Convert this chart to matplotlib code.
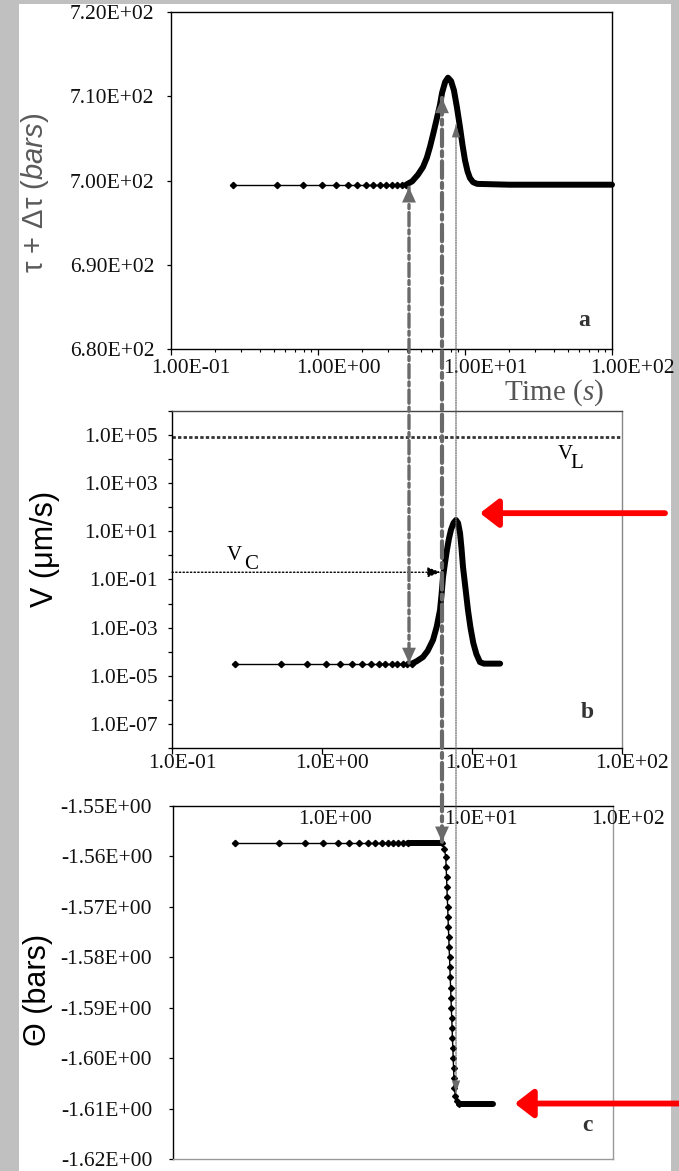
import matplotlib
matplotlib.use('Agg')
import matplotlib.pyplot as plt
from matplotlib import transforms
from matplotlib.patches import Rectangle, ConnectionPatch
from matplotlib.ticker import FixedLocator, NullLocator, LogLocator, NullFormatter

# ---- data ----
t_sparse = [0.265, 0.53, 0.795, 1.06, 1.325, 1.59, 1.855, 2.12, 2.385, 2.65, 2.915, 3.18, 3.445, 3.71, 3.975]
tau_sparse = [699.5, 699.5, 699.5, 699.5, 699.5, 699.5, 699.5, 699.5, 699.5, 699.5, 699.5, 699.5, 699.5, 699.5, 699.5]
v_sparse = [3.2e-5, 3.2e-5, 3.2e-5, 3.2e-5, 3.2e-5, 3.2e-5, 3.2e-5, 3.2e-5, 3.2e-5, 3.2e-5, 3.2e-5, 3.2e-5, 3.2e-5, 3.2e-5, 3.2e-5]
theta_sparse = [-1.5573, -1.5573, -1.5573, -1.5573, -1.5573, -1.5573, -1.5573, -1.5573, -1.5573, -1.5573, -1.5573, -1.5573, -1.5573, -1.5573, -1.5573]

ta_dense = [3.975, 4.37, 4.79, 5.18, 5.50, 5.78, 6.11, 6.46, 6.76, 6.98, 7.33, 7.66, 8.04, 8.41, 8.81,
            9.25, 9.62, 10.0, 10.4, 10.8, 11.35, 12.1, 20.0, 50.0, 100.0]
tau_dense = [699.5, 699.9, 700.7, 701.6, 702.7, 704.0, 705.7, 707.5, 709.0, 710.4, 711.7, 712.2, 711.8, 710.7, 708.7,
             706.3, 704.2, 702.4, 701.1, 700.3, 699.8, 699.6, 699.5, 699.5, 699.5]

tb_dense = [3.975, 4.27, 4.71, 5.07, 5.50, 5.82, 6.12, 6.27, 6.41, 6.61, 6.81, 7.02, 7.24, 7.53, 7.82,
            8.07, 8.32, 8.51, 8.71, 9.06, 9.40, 9.77, 10.2, 10.7, 11.3, 12.0, 15.4]
v_dense = [3.2e-5, 4.0e-5, 6.0e-5, 1.1e-4, 3.1e-4, 1.1e-3, 5.4e-3, 2.5e-2, 0.126, 0.50, 1.7, 5.0, 11.5, 22.4, 29.5,
           22.4, 8.5, 2.0, 0.33, 0.040, 5.4e-3, 1.0e-3, 2.3e-4, 7.9e-5, 3.7e-5, 3.2e-5, 3.2e-5]

tc_flat1 = [3.975, 4.6, 5.3, 6.0, 6.86]
theta_flat1 = [-1.5573, -1.5573, -1.5573, -1.5573, -1.5573]
tc_drop = [6.86, 7.08, 7.24, 7.28, 7.33, 7.37, 7.41, 7.46, 7.50, 7.54, 7.59, 7.63, 7.68, 7.72, 7.77,
           7.81, 7.86, 7.90, 7.95, 8.00, 8.04, 8.09, 8.14, 8.18, 8.23, 8.30, 8.41, 8.61, 8.89]
theta_drop = [-1.5573, -1.5585, -1.5601, -1.5620, -1.5640, -1.5660, -1.5680, -1.5700, -1.5720, -1.5740,
              -1.5760, -1.5780, -1.5800, -1.5820, -1.5840, -1.5860, -1.5880, -1.5900, -1.5920, -1.5940,
              -1.5960, -1.5980, -1.6000, -1.6020, -1.6040, -1.6060, -1.6075, -1.6085, -1.6090]
tc_flat2 = [8.89, 10.0, 12.0, 15.3]
theta_flat2 = [-1.6090, -1.6090, -1.6090, -1.6090]

v_limit = 8.5e4
v_crit = 0.2

a_yticks = [680, 690, 700, 710, 720]
a_ylabels = ['6.80E+02', '6.90E+02', '7.00E+02', '7.10E+02', '7.20E+02']
a_xticks = [0.1, 1, 10, 100]
a_xlabels = ['1.00E-01', '1.00E+00', '1.00E+01', '1.00E+02']
b_yticks = [1e-7, 1e-5, 1e-3, 1e-1, 1e1, 1e3, 1e5]
b_ylabels = ['1.0E-07', '1.0E-05', '1.0E-03', '1.0E-01', '1.0E+01', '1.0E+03', '1.0E+05']
b_yminor = [1e-8, 1e-6, 1e-4, 1e-2, 1e0, 1e2, 1e4, 1e6]
b_xticks = [0.1, 1, 10, 100]
b_xlabels = ['1.0E-01', '1.0E+00', '1.0E+01', '1.0E+02']
c_yticks = [-1.62, -1.61, -1.60, -1.59, -1.58, -1.57, -1.56, -1.55]
c_ylabels = ['-1.62E+00', '-1.61E+00', '-1.60E+00', '-1.59E+00', '-1.58E+00', '-1.57E+00', '-1.56E+00', '-1.55E+00']
c_xticks = [1, 10, 100]
c_xlabels = ['1.0E+00', '1.0E+01', '1.0E+02']

plt.rcParams['mathtext.fontset'] = 'custom'
plt.rcParams['mathtext.rm'] = 'Liberation Serif'
plt.rcParams['mathtext.it'] = 'Liberation Serif:italic'
plt.rcParams['mathtext.sf'] = 'Liberation Sans:italic'

W, H = 679, 1171
SERIF = 'Liberation Serif'
SANS = 'Liberation Sans'
TICKFS = 15.5
THICK = 4.3


def rect(l, t, r, b):
    return [l / W, 1 - b / H, (r - l) / W, (b - t) / H]


fig = plt.figure(figsize=(W / 100, H / 100), dpi=100)
fig.patch.set_facecolor('#c0c0c0')
fig.add_artist(Rectangle((19 / W, 0), 652 / W, 1167 / H, transform=fig.transFigure,
                         facecolor='white', edgecolor='none', zorder=-5))

ax_a = fig.add_axes(rect(171, 12, 612, 349))
ax_b = fig.add_axes(rect(172, 411, 622, 748))
ax_c = fig.add_axes(rect(173, 806, 613, 1159))


def xlabels(ax, vals, labels, dx, dy, ypos=0):
    for v, s in zip(vals, labels):
        ax.annotate(s, xy=(v, ypos), xycoords=('data', 'axes fraction'), xytext=(dx, dy),
                    textcoords='offset pixels', ha='center', va='center', fontsize=TICKFS,
                    family=SERIF, color='#111111', annotation_clip=False)


def style_y(ax, pad):
    ax.tick_params(axis='y', which='both', direction='out', length=3, width=0.9, pad=pad,
                   labelsize=TICKFS, labelcolor='#111111')
    for lbl in ax.get_yticklabels():
        lbl.set_family(SERIF)


def ylabel(ax, text, x, y, size, color):
    ax.set_ylabel(text, family=SANS, fontsize=size, color=color)
    ax.yaxis.label.set_verticalalignment('center')
    ax.yaxis.set_label_coords(x / W, 1 - y / H, transform=fig.transFigure)


# ---- panel a ----
ax_a.plot(t_sparse, tau_sparse, '-', color='k', lw=1, marker='D', ms=3.2)
ax_a.plot(ta_dense, tau_dense, '-', color='k', lw=THICK, solid_capstyle='round', solid_joinstyle='round', clip_on=False)
ax_a.set_xscale('log')
ax_a.set_xlim(0.1, 100)
ax_a.set_ylim(680, 720)
ax_a.yaxis.set_major_locator(FixedLocator(a_yticks))
ax_a.set_yticklabels(a_ylabels)
ax_a.xaxis.set_major_locator(FixedLocator(a_xticks))
ax_a.xaxis.set_minor_locator(LogLocator(base=10, subs=(2, 3, 4, 5, 6, 7, 8, 9)))
ax_a.xaxis.set_major_formatter(NullFormatter())
ax_a.xaxis.set_minor_formatter(NullFormatter())
ax_a.tick_params(axis='x', which='major', direction='out', length=4, width=0.9)
ax_a.tick_params(axis='x', which='minor', direction='out', length=2.5, width=0.8)
style_y(ax_a, 9)
xlabels(ax_a, a_xticks, a_xlabels, 20, -20)
for s in ax_a.spines.values():
    s.set_linewidth(1.0)
ylabel(ax_a, r'τ + Δτ ($\mathsf{bars}$)', 35, 193, 21, '#5a5a5a')
ax_a.text(0.937, 0.086, 'a', transform=ax_a.transAxes, ha='center', va='center',
          family=SERIF, fontweight='bold', fontsize=17, color='#333333')
fig.text(554 / W, 1 - 393 / H, 'Time ($s$)', ha='center', va='center', family=SERIF,
         fontsize=21, color='#555555')

# ---- panel b ----
ax_b.plot(t_sparse, v_sparse, '-', color='k', lw=1, marker='D', ms=3.2)
ax_b.plot(tb_dense, v_dense, '-', color='k', lw=THICK, solid_capstyle='round', solid_joinstyle='round')
ax_b.axhline(v_limit, color='#333333', lw=2.0, ls=(0, (1.2, 0.8)))
ax_b.set_xscale('log')
ax_b.set_yscale('log')
ax_b.set_xlim(0.1, 100)
ax_b.set_ylim(1e-8, 1e6)
ax_b.yaxis.set_major_locator(FixedLocator(b_yticks))
ax_b.yaxis.set_minor_locator(FixedLocator(b_yminor))
ax_b.set_yticklabels(b_ylabels)
ax_b.yaxis.set_minor_formatter(NullFormatter())
ax_b.xaxis.set_major_locator(FixedLocator(b_xticks))
ax_b.xaxis.set_minor_locator(NullLocator())
ax_b.xaxis.set_major_formatter(NullFormatter())
ax_b.tick_params(axis='x', which='major', direction='out', length=4, width=0.9)
style_y(ax_b, 7)
xlabels(ax_b, b_xticks, b_xlabels, 10, -15)
for s in ax_b.spines.values():
    s.set_linewidth(1.0)
ax_b.spines['right'].set_color('#888888')
ax_b.spines['top'].set_color('#444444')
ylabel(ax_b, 'V (μm/s)', 45, 549, 22, 'black')
ax_b.text(0.922, 0.104, 'b', transform=ax_b.transAxes, ha='center', va='center',
          family=SERIF, fontweight='bold', fontsize=17, color='#333333')
ax_b.annotate('V', xy=(41.7, 1.5e4), ha='center', va='center', family=SERIF, fontsize=15)
ax_b.annotate('L', xy=(41.7, 1.5e4), xytext=(12, -9), textcoords='offset pixels',
              ha='center', va='center', family=SERIF, fontsize=15)
ax_b.annotate('V', xy=(0.233, 1.0), ha='left', va='center', family=SERIF, fontsize=15)
ax_b.annotate('C', xy=(0.233, 1.0), xytext=(17, -9), textcoords='offset pixels',
              ha='left', va='center', family=SERIF, fontsize=15)
ax_b.annotate('', xy=(6.21, v_crit), xytext=(0, v_crit), textcoords=('axes fraction', 'data'),
              arrowprops=dict(arrowstyle='-|>,head_length=0.8,head_width=0.3', mutation_scale=10,
                              color='k', lw=1, linestyle=':', shrinkA=0, shrinkB=0))

# ---- panel c ----
ax_c.plot(t_sparse, theta_sparse, '-', color='k', lw=1, marker='D', ms=3.2)
ax_c.plot(tc_flat1, theta_flat1, '-', color='k', lw=THICK, solid_capstyle='round')
ax_c.plot(tc_drop, theta_drop, '-', color='k', lw=1, marker='D', ms=3.0)
ax_c.plot(tc_flat2, theta_flat2, '-', color='k', lw=THICK, solid_capstyle='round')
ax_c.set_xscale('log')
ax_c.set_xlim(0.1, 100)
ax_c.set_ylim(-1.62, -1.55)
ax_c.yaxis.set_major_locator(FixedLocator(c_yticks))
ax_c.set_yticklabels(c_ylabels)
ax_c.xaxis.set_major_locator(FixedLocator(c_xticks))
ax_c.xaxis.set_minor_locator(NullLocator())
ax_c.xaxis.set_major_formatter(NullFormatter())
ax_c.tick_params(axis='x', which='both', length=0)
style_y(ax_c, 12)
xlabels(ax_c, c_xticks, c_xlabels, 15, -13, ypos=1)
for s in ax_c.spines.values():
    s.set_linewidth(1.0)
ax_c.spines['right'].set_color('#999999')
ax_c.spines['bottom'].set_color('#999999')
ylabel(ax_c, 'Θ (bars)', 38, 990, 22, 'black')
ax_c.text(0.941, 0.096, 'c', transform=ax_c.transAxes, ha='center', va='center',
          family=SERIF, fontweight='bold', fontsize=17, color='#333333')

# ---- connecting arrows across panels ----
bt_a = transforms.blended_transform_factory(fig.transFigure, ax_a.transData)
bt_b = transforms.blended_transform_factory(fig.transFigure, ax_b.transData)
bt_c = transforms.blended_transform_factory(fig.transFigure, ax_c.transData)

links = [
    (409 / W, 699.2, bt_a, 3.4e-5, bt_b, 2.4, (0, (4, 1.2, 1.2, 1.2)), 'head_length=1.1,head_width=0.5'),
    (442 / W, 709.8, bt_a, -1.5571, bt_c, 3.0, (0, (4, 1.2, 1.2, 1.2)), 'head_length=1.1,head_width=0.5'),
    (456 / W, 706.6, bt_a, -1.6069, bt_c, 0.9, (0, (1, 1)), 'head_length=0.9,head_width=0.3'),
]
for x, ya, ta, yb, tb, lw, ls, head in links:
    # shaft, dashed
    fig.add_artist(ConnectionPatch(xyA=(x, ya), coordsA=ta, xyB=(x, yb), coordsB=tb,
                                   arrowstyle='-', color='#6a6a6a', lw=lw, linestyle=ls,
                                   shrinkA=0, shrinkB=0, zorder=10))
    # solid filled heads
    fig.add_artist(ConnectionPatch(xyA=(x, ya), coordsA=ta, xyB=(x, yb), coordsB=tb,
                                   arrowstyle='<|-|>,' + head, mutation_scale=10, color='#6a6a6a',
                                   lw=0, shrinkA=0, shrinkB=0, zorder=11))

# ---- red arrows ----
ax_b.annotate('', xy=(11.3, 57), xytext=(665 / W, 57), textcoords=('figure fraction', 'data'),
              arrowprops=dict(arrowstyle='-|>,head_length=11,head_width=8.5', mutation_scale=1,
                              color='#ff0000', lw=4.2, shrinkA=0, shrinkB=0),
              annotation_clip=False)
ax_c.annotate('', xy=(21.4, -1.609), xytext=(1.0, -1.609), textcoords=('figure fraction', 'data'),
              arrowprops=dict(arrowstyle='-|>,head_length=11,head_width=8.5', mutation_scale=1,
                              color='#ff0000', lw=4.2, shrinkA=0, shrinkB=0),
              annotation_clip=False)

fig.savefig('out.png', dpi=100, facecolor=fig.get_facecolor())
